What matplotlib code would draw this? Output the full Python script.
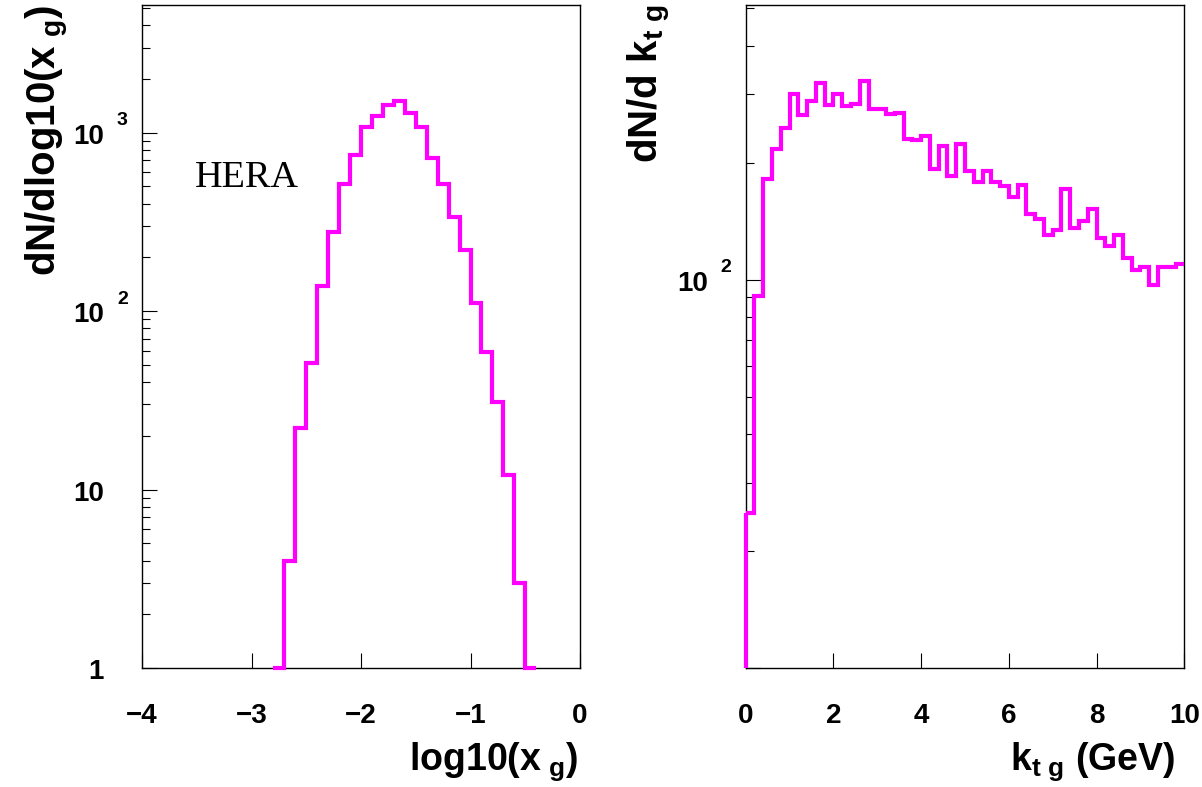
import numpy as np
import matplotlib
matplotlib.use("Agg")
from matplotlib import pyplot as plt
from matplotlib.ticker import LogLocator, NullFormatter, NullLocator
from matplotlib.transforms import blended_transform_factory, offset_copy

plt.rcParams["font.family"] = ["Liberation Sans", "DejaVu Sans"]
plt.rcParams["font.weight"] = "bold"
plt.rcParams["mathtext.fontset"] = "custom"
plt.rcParams["mathtext.rm"] = "Liberation Sans:bold"
plt.rcParams["mathtext.it"] = "Liberation Sans:bold"
plt.rcParams["mathtext.bf"] = "Liberation Sans:bold"
plt.rcParams["mathtext.default"] = "rm"

MAGENTA = "#ff00ff"

# log10(x_g) histogram, bins of 0.1
xg_edges = [-2.8, -2.7, -2.6, -2.5, -2.4, -2.3, -2.2, -2.1, -2.0, -1.9, -1.8, -1.7, -1.6,
            -1.5, -1.4, -1.3, -1.2, -1.1, -1.0, -0.9, -0.8, -0.7, -0.6, -0.5, -0.4]
xg_counts = [1, 4, 22, 51, 139, 278, 519, 748, 1079, 1242, 1439, 1507, 1298,
             1079, 726, 519, 335, 220, 111, 59, 31, 12, 3, 1]
xg_ticks = [-4, -3, -2, -1, 0]
xg_ticklabels = ["\u22124", "\u22123", "\u22122", "\u22121", "0"]

# k_t of the gluon, bins of 0.2 GeV from 0 to 10
kt_edges = np.round(np.arange(0, 10.01, 0.2), 1)
kt_counts = [25, 91, 182, 217, 246, 300, 265, 288, 321, 282,
             301, 280, 284, 324, 275, 276, 267, 269, 231, 229,
             235, 193, 221, 185, 224, 190, 179, 191, 178, 174,
             163, 175, 148, 143, 130, 134, 171, 136, 142, 152,
             128, 122, 130, 114, 106, 108, 97, 108, 108, 110]
kt_ticks = [0, 2, 4, 6, 8, 10]

W, H = 1202, 787
fig = plt.figure(figsize=(W / 100, H / 100), dpi=100)


def frame(ax):
    for s in ax.spines.values():
        s.set_linewidth(1.0)
    ax.tick_params(which="both", direction="in", top=False, right=False,
                   width=0.8, color="black")
    ax.tick_params(which="major", length=11)
    ax.tick_params(which="minor", length=6)
    ax.tick_params(axis="x", labelsize=20, pad=25)
    ax.set_yscale("log")
    ax.yaxis.set_minor_locator(LogLocator(base=10, subs=np.arange(2, 10)))
    ax.yaxis.set_minor_formatter(NullFormatter())
    ax.yaxis.set_major_formatter(NullFormatter())
    ax.xaxis.set_minor_locator(NullLocator())


def log_labels(ax, ticks):
    base = blended_transform_factory(ax.transAxes, ax.transData)
    tr_num = offset_copy(base, fig=fig, x=-38, y=-4, units="dots")
    tr_exp = offset_copy(base, fig=fig, x=-25, y=12, units="dots")
    for t in ticks:
        e = int(round(np.log10(t)))
        ax.text(0, t, "1" if e == 0 else "10", transform=tr_num,
                ha="right", va="center", fontsize=20)
        if e >= 2:
            ax.text(0, t, str(e), transform=tr_exp,
                    ha="left", va="center", fontsize=14)


# left panel
ax1 = fig.add_axes([142 / W, (H - 668) / H, 438 / W, 663 / H])
frame(ax1)
ax1.stairs(xg_counts, xg_edges, baseline=None, color=MAGENTA, linewidth=3,
           zorder=3, clip_on=False)
ax1.set_xlim(-4, 0)
ax1.set_ylim(1, 5200)
ax1.set_xticks(xg_ticks)
ax1.set_xticklabels(xg_ticklabels)
log_labels(ax1, [1, 10, 100, 1000])
ax1.text(0.121, 0.7255, "HERA", transform=ax1.transAxes, fontsize=27.5,
         family="Liberation Serif", weight="normal", ha="left", va="baseline")
ax1.text(0.9954, -0.1538, r"log10(x$_{\ g}$)", transform=ax1.transAxes,
         fontsize=27, ha="right", va="baseline")
ax1.text(-0.270, 1.0, r"dN/dlog10(x$_{\ g}$)", transform=ax1.transAxes,
         fontsize=29, rotation=90, ha="left", va="top")

# right panel
ax2 = fig.add_axes([745.7 / W, (H - 668) / H, 438.6 / W, 663 / H])
frame(ax2)
ax2.set_xlim(0, 10)
ax2.set_ylim(10, 510)
ax2.stairs(kt_counts, kt_edges, baseline=None, color=MAGENTA, linewidth=3,
           zorder=3, clip_on=False)
ax2.vlines(kt_edges[0], ax2.get_ylim()[0], kt_counts[0], color=MAGENTA,
           linewidth=3, zorder=3, clip_on=False)
ax2.set_xticks(kt_ticks)
ax2.set_xticklabels([str(t) for t in kt_ticks])
log_labels(ax2, [100])
ax2.text(0.979, -0.1538, r"k$_{\rm t\ g}$ (GeV)", transform=ax2.transAxes,
         fontsize=27, ha="right", va="baseline")
ax2.text(-0.272, 1.0, r"dN/d k$_{\rm t\ g}$", transform=ax2.transAxes,
         fontsize=29, rotation=90, ha="left", va="top")

fig.savefig("out.png", dpi=100)
